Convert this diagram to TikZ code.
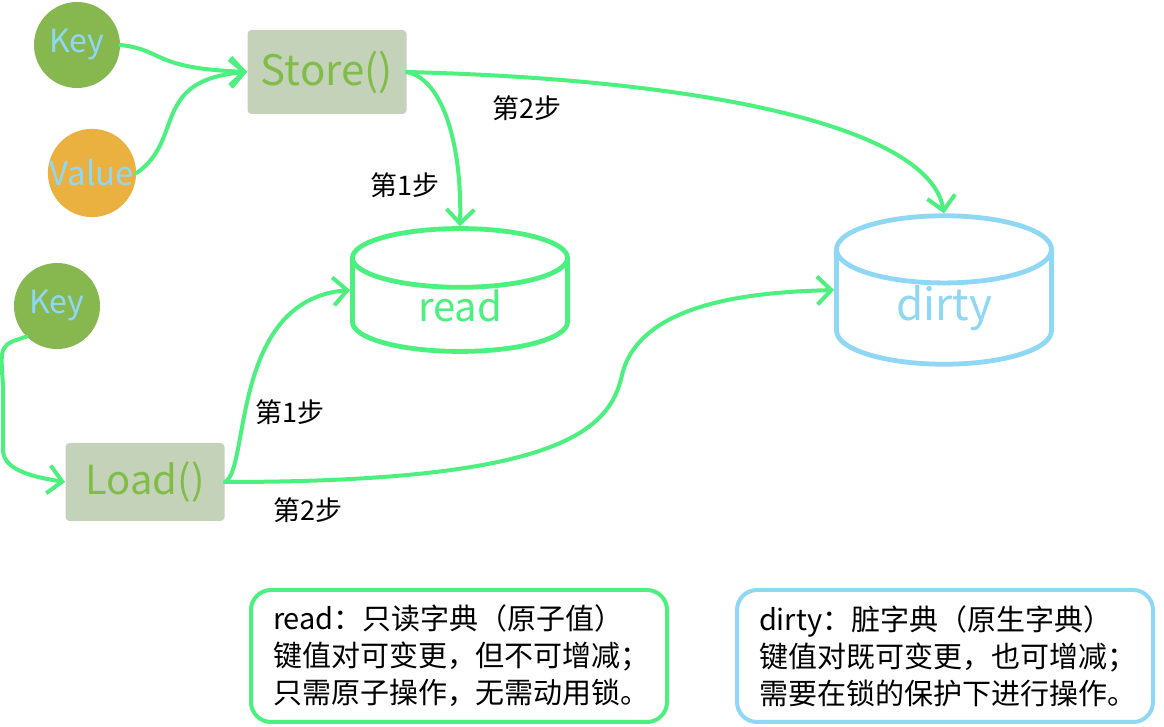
\documentclass[tikz,border=0pt]{standalone}
\usepackage{fontspec}
\setmainfont{Noto Sans CJK SC}
\usepackage{xcolor}
\usepackage{tikz}
\usetikzlibrary{arrows.meta,positioning,calc,shapes.geometric}
\definecolor{flowgreen}{HTML}{4CF07F}
\definecolor{keygreen}{HTML}{86B84F}
\definecolor{valorange}{HTML}{EBB140}
\definecolor{skyblue}{HTML}{8FD8F5}
\definecolor{opfill}{HTML}{C4D2B9}
\definecolor{optext}{HTML}{80BD48}
\tikzset{
    every picture/.style={line cap=round,line join=round},
    keynode/.style={circle,fill=keygreen,minimum size=43pt,inner sep=0pt,
      text=skyblue,font=\fontsize{16}{18}\selectfont},
    valnode/.style={keynode,fill=valorange,minimum size=44pt,
      font=\fontsize{16.5}{18}\selectfont},
    opbox/.style={fill=opfill,rounded corners=2pt,minimum width=79.5pt,
      minimum height=42pt,inner sep=0pt,text=optext,font=\fontsize{21}{24}\selectfont},
    dbnode/.style={cylinder,shape border rotate=90,aspect=0.7,draw=flowgreen,
      fill=white,line width=2.4pt,minimum width=107.5pt,minimum height=60pt,
      inner sep=0pt,anchor=shape center,text=flowgreen,font=\fontsize{20}{22}\selectfont},
    flowarrow/.style={-{Straight Barb[length=7pt,width=14pt,line width=2pt]},
      draw=flowgreen,line width=2pt},
    steplabel/.style={font=\fontsize{13.5}{15}\selectfont,text=black},
    notebox/.style={draw=flowgreen,fill=white,line width=2pt,rounded corners=10pt,
      minimum height=66pt,text width=186pt,inner xsep=11pt,align=left,
      font=\fontsize{14.5}{18.5}\selectfont}
}
\begin{document}
\begin{tikzpicture}[x=0.5pt,y=-0.5pt]
  \useasboundingbox[fill=white] (0,0) rectangle (1164,727);
  % store side
  \node[keynode] (skey) at (77,45) {Key};
  \node[valnode] (sval) at (92,173) {Value};
  \node[opbox] (store) at (327,72) {Store()};
  % load side
  \node[keynode] (lkey) at (57,306) {Key};
  \node[opbox,minimum height=39pt,font=\fontsize{20}{22}\selectfont] (load) at (145,482) {Load()};
  % the two maps
  \node[dbnode] (read) at (460,290) {read};
  \node[dbnode,draw=skyblue,text=skyblue,font=\fontsize{22}{24}\selectfont] (dirty) at (944,290) {dirty};

  \draw[flowarrow] (skey.east) .. controls (165,50) and (150,68) .. (store.west);
  \draw[flowarrow] (sval.east) .. controls (185,140) and (150,80) .. (store.west);
  \draw[flowarrow] (store.east) .. controls (445,80) and (462,150) .. (read.north);
  \draw[flowarrow] (store.east) .. controls (720,80) and (930,130) .. (dirty.north);
  \draw[flowarrow] (lkey.225) .. controls (0,345) .. (3,385) -- (3,450)
    .. controls (3,472) and (40,478) .. (load.west);
  \draw[flowarrow] (load.east) .. controls (250,470) and (230,300) .. (read.shape center -| read.west);
  \draw[flowarrow] (load.east) .. controls (560,482) and (610,430) .. (622,375)
    .. controls (640,300) and (760,292) .. (dirty.shape center -| dirty.west);

  \node[steplabel] (s1a) at (405,185) {第1步};
  \node[steplabel] (s2a) at (527,108) {第2步};
  \node[steplabel] (s1b) at (290,412) {第1步};
  \node[steplabel] (s2b) at (308,510) {第2步};

  % notes
  \node[notebox] (readnote) at (459,656) {read：只读字典（原子值）\\键值对可变更，但不可增减；\\只需原子操作，无需动用锁。};
  \node[notebox,draw=skyblue] (dirtynote) at (945,656) {dirty：脏字典（原生字典）\\键值对既可变更，也可增减；\\需要在锁的保护下进行操作。};
\end{tikzpicture}
\end{document}
